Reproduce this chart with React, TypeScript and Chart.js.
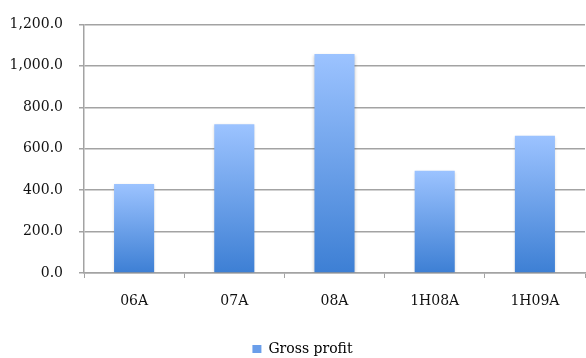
import React, { useEffect, useRef } from "react";
import { Chart, registerables } from "chart.js";

Chart.register(...registerables);

const categories = ["06A", "07A", "08A", "1H08A", "1H09A"];
const grossProfit = [430, 718, 1057, 494, 662];
const seriesName = "Gross profit";
const yMax = 1200;
const yStep = 200;

const W = 586;
const H = 358;
const FONT = "'DejaVu Serif', serif";
const GRID = "#a3a3a3";

// Soft drop shadow behind the bars
const barShadow = {
  id: "barShadow",
  beforeDatasetsDraw(chart: any) {
    const c = chart.ctx;
    c.save();
    c.shadowColor = "rgba(0,0,0,0.22)";
    c.shadowBlur = 3;
    c.shadowOffsetX = 0;
    c.shadowOffsetY = 1;
  },
  afterDatasetsDraw(chart: any) {
    chart.ctx.restore();
  },
};

// Nudge the legend a little to the right of the canvas centre
const legendShift = {
  id: "legendShift",
  afterLayout(chart: any) {
    if (chart.legend) chart.legend.left += 20;
  },
};

export default function App() {
  const ref = useRef<HTMLCanvasElement | null>(null);

  useEffect(() => {
    if (!ref.current) return;
    const chart = new Chart(ref.current, {
      type: "bar",
      data: {
        labels: categories,
        datasets: [
          {
            label: seriesName,
            data: grossProfit,
            backgroundColor: (ctx: any) => {
              const ch = ctx.chart;
              const y = ch.scales?.y;
              if (ctx.type !== "data" || !y) return "#6a9eea";
              const top = y.getPixelForValue(ctx.parsed.y);
              const bottom = y.getPixelForValue(0);
              const g = ch.ctx.createLinearGradient(0, top, 0, bottom);
              g.addColorStop(0, "#9cc3ff");
              g.addColorStop(1, "#3d7fd4");
              return g;
            },
            borderWidth: 0,
            barPercentage: 0.4,
            categoryPercentage: 1,
          },
        ],
      },
      options: {
        animation: false,
        responsive: false,
        maintainAspectRatio: false,
        devicePixelRatio: 1,
        layout: { padding: { top: 15, right: 1, left: 0, bottom: -8 } },
        plugins: {
          tooltip: { enabled: false },
          legend: {
            position: "bottom",
            labels: {
              boxWidth: 9,
              boxHeight: 8,
              padding: 8,
              color: "#111",
              font: { family: FONT, size: 14 },
              generateLabels: () => [
                {
                  text: seriesName,
                  fillStyle: "#6a9eea",
                  strokeStyle: "#6a9eea",
                  lineWidth: 0,
                  hidden: false,
                  datasetIndex: 0,
                },
              ],
            },
          },
        },
        scales: {
          x: {
            grid: {
              drawOnChartArea: false,
              drawTicks: true,
              tickLength: 5,
              color: GRID,
              offset: true,
            },
            border: { display: true, color: GRID, width: 1.5 },
            ticks: {
              color: "#111",
              padding: 15,
              font: { family: FONT, size: 14 },
            },
            afterFit: (s: any) => {
              s.height = 61;
            },
          },
          y: {
            min: 0,
            max: yMax,
            ticks: {
              stepSize: yStep,
              color: "#111",
              padding: 16,
              font: { family: FONT, size: 14 },
              callback: (v: any) =>
                Number(v).toLocaleString("en-US", {
                  minimumFractionDigits: 1,
                  maximumFractionDigits: 1,
                }),
            },
            grid: { color: GRID, lineWidth: 1.5, tickLength: 5 },
            border: { display: true, color: GRID, width: 1.5 },
            afterFit: (s: any) => {
              s.width = 84;
            },
          },
        },
      },
      plugins: [barShadow, legendShift],
    });
    return () => chart.destroy();
  }, []);

  return (
    <div
      style={{
        position: "absolute",
        left: 0,
        top: 0,
        width: W,
        height: H,
        background: "#fff",
        overflow: "hidden",
      }}
    >
      <canvas
        ref={ref}
        width={W}
        height={H}
        style={{ display: "block", width: W, height: H }}
      />
    </div>
  );
}
